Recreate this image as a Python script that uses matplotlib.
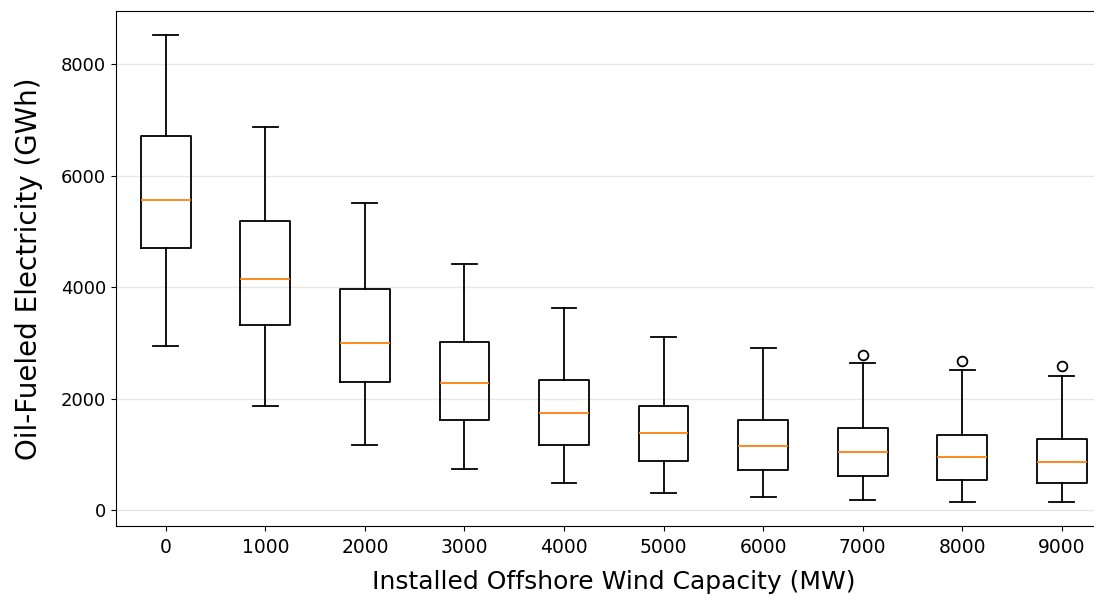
import matplotlib.pyplot as plt

# installed offshore wind capacity (MW) and box statistics of oil-fueled electricity (GWh)
capacities = [0, 1000, 2000, 3000, 4000, 5000, 6000, 7000, 8000, 9000]
whisker_high = [8525, 6872, 5512, 4420, 3633, 3114, 2917, 2643, 2518, 2404]
q3_values = [6716, 5190, 3973, 3024, 2344, 1879, 1628, 1480, 1348, 1283]
medians = [5571, 4152, 3006, 2291, 1754, 1396, 1163, 1050, 954, 871]
q1_values = [4701, 3329, 2309, 1628, 1181, 895, 734, 621, 542, 489]
whisker_low = [2953, 1879, 1181, 752, 501, 322, 233, 179, 161, 149]
outliers = [[], [], [], [], [], [], [], [2792], [2679], [2583]]

stats = []
for i, cap in enumerate(capacities):
    stats.append({'label': str(cap), 'med': medians[i], 'q1': q1_values[i], 'q3': q3_values[i],
                  'whislo': whisker_low[i], 'whishi': whisker_high[i], 'fliers': outliers[i]})

fig = plt.figure(figsize=(10.94, 6.01), dpi=100)
ax = fig.add_axes([116 / 1094, 75 / 601, 980 / 1094, 515 / 601])

line_kw = dict(color='black', linewidth=1.3)
ax.bxp(stats, positions=range(len(capacities)), widths=0.5,
       boxprops=line_kw, whiskerprops=line_kw, capprops=line_kw,
       medianprops=dict(color='#ff7f0e', linewidth=1.3),
       flierprops=dict(marker='o', markerfacecolor='none', markeredgecolor='black',
                       markersize=7, markeredgewidth=1.3))

ax.set_xlim(-0.5, 9.343)
ax.set_ylim(-278, 8950)
ax.set_yticks([0, 2000, 4000, 6000, 8000])
ax.yaxis.grid(True, color='#e6e6e6', linewidth=1)
ax.set_axisbelow(True)
ax.tick_params(axis='y', labelsize=13)
ax.tick_params(axis='x', labelsize=13.5, pad=5)

ax.set_xlabel('Installed Offshore Wind Capacity (MW)', fontsize=18)
ax.xaxis.set_label_coords(0.5077, -0.085)
ax.set_ylabel('Oil-Fueled Electricity (GWh)', fontsize=20, labelpad=13)

fig.savefig('out.png', dpi=100)
